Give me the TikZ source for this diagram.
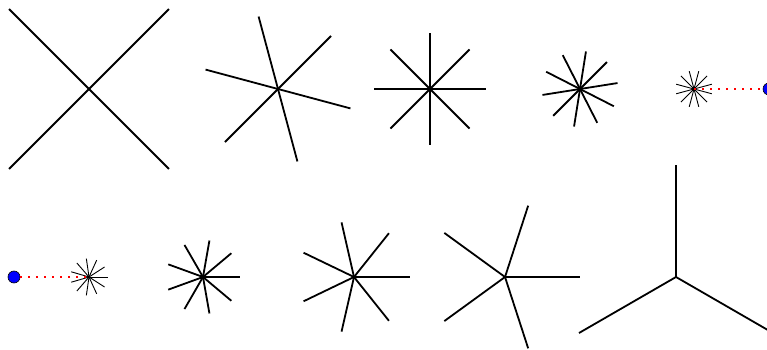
\documentclass[tikz,border=0pt]{standalone}
\begin{document}
\begin{tikzpicture}[x=1pt,y=1pt,
  ray/.style={line width=1.8pt, line cap=butt},
  thinray/.style={line width=0.9pt},
  dotline/.style={red, line width=2pt, dash pattern=on 2pt off 6pt},
  ball/.style={circle, draw=black, fill=blue, line width=0.6pt, minimum size=12pt, inner sep=0pt}]
\useasboundingbox (0,0) rectangle (767,-350);
\clip (0,0) rectangle (767,-350);
% star centres
\coordinate (t1) at (89,-89);
\coordinate (t2) at (278,-89);
\coordinate (t3) at (430,-89);
\coordinate (t4) at (580,-89);
\coordinate (t5) at (694,-89);
\coordinate (b1) at (89,-277);
\coordinate (b2) at (203,-277);
\coordinate (b3) at (354,-277);
\coordinate (b4) at (505,-277);
\coordinate (b5) at (676,-277);
% top row
\foreach \k in {1,...,4}  \draw[ray] (t1) -- ++({45+90*\k}:113pt);
\foreach \k in {1,...,6}  \draw[ray] (t2) -- ++({45+60*\k}:75pt);
\foreach \k in {1,...,8}  \draw[ray] (t3) -- ++({45*\k}:56pt);
\foreach \k in {1,...,10} \draw[ray] (t4) -- ++({45+36*\k}:38pt);
\foreach \k in {1,...,12} \draw[thinray] (t5) -- ++({15+30*\k}:18.5pt);
% bottom row
\foreach \k in {1,...,11} \draw[thinray] (b1) -- ++({360*\k/11}:18.5pt);
\foreach \k in {1,...,9}  \draw[ray] (b2) -- ++({40*\k}:37pt);
\foreach \k in {1,...,7}  \draw[ray] (b3) -- ++({360*\k/7}:56pt);
\foreach \k in {1,...,5}  \draw[ray] (b4) -- ++({72*\k}:75pt);
\foreach \k in {1,...,3}  \draw[ray] (b5) -- ++({90+120*\k}:112pt);
% balls and dotted links
\node[ball] (cr) at (769,-89) {};
\node[ball] (cl) at (14,-277) {};
\draw[dotline] (t5) -- (cr);
\draw[dotline] (cl) -- (b1);
\end{tikzpicture}
\end{document}
